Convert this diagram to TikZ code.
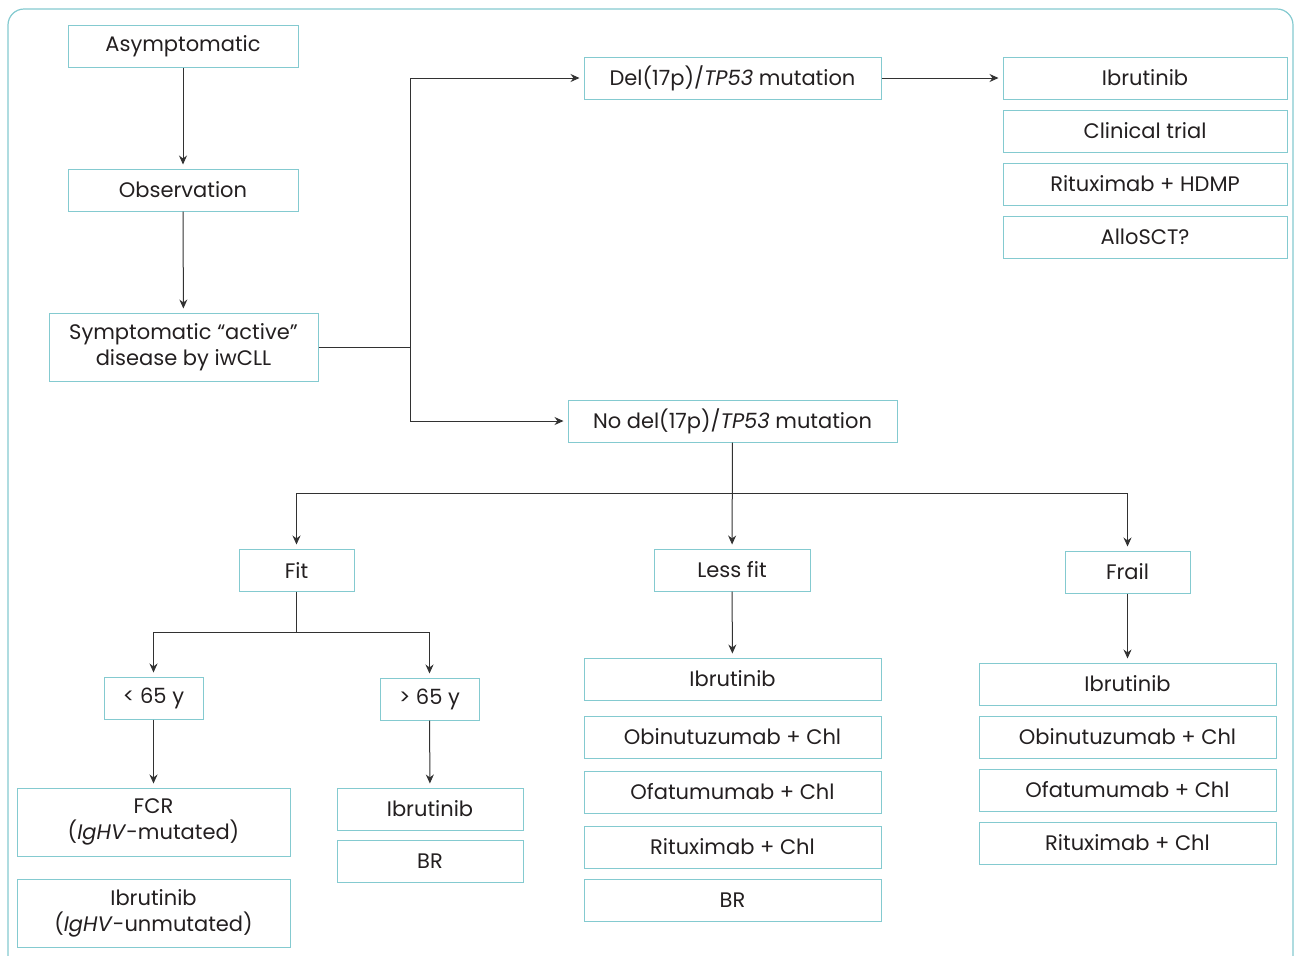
\documentclass[tikz,border=0pt]{standalone}
\usepackage{fontspec}
\setmainfont{Poppins}
\usetikzlibrary{positioning,calc,arrows.meta}
\definecolor{boxteal}{RGB}{132,202,208}
\definecolor{linegray}{RGB}{50,50,50}
\definecolor{txt}{RGB}{35,31,32}

\begin{document}
\begin{tikzpicture}[x=0.5pt,y=-0.5pt,
	box/.style={draw=boxteal,line width=0.5pt,minimum height=21pt,inner sep=0pt,align=center,text=txt,font=\fontsize{10.5}{13}\selectfont},
	arr/.style={-{Stealth[length=4.5pt,width=4pt]},linegray,line width=0.5pt,shorten >=2pt},
	ln/.style={linegray,line width=0.5pt}]
			\useasboundingbox (0,0) rectangle (1294,955);
			\clip (0,0) rectangle (1294,955);
			\draw[boxteal,line width=0.6pt,rounded corners=8pt] (8,9) rectangle (1293,975);
			% left column
			\node[box,minimum width=115pt] (asym) at (183,46) {Asymptomatic};
			\node[box,minimum width=115pt] (obs) at (183,190) {Observation};
			\node[box,minimum width=134.5pt,minimum height=34pt] (sympt) at (183.5,347) {Symptomatic “active”\\disease by iwCLL};
			% mutation status
			\node[box,minimum width=148.5pt] (del) at (732.5,78) {Del(17p)/\textit{TP53} mutation};
			\node[box,minimum width=164.5pt] (nodel) at (732.5,421) {No del(17p)/\textit{TP53} mutation};
			\foreach \y/\t/\n in {78/Ibrutinib/d1,131/Clinical trial/d2,184/Rituximab + HDMP/d3,237/AlloSCT?/d4}{
					\node[box,minimum width=142pt] (\n) at (1145,\y) {\t};
				}
			% fitness
			\node[box,minimum width=57.5pt] (fit) at (296.5,570) {Fit};
			\node[box,minimum width=78pt] (lessfit) at (732,570) {Less fit};
			\node[box,minimum width=62.5pt] (frail) at (1127.5,572) {Frail};
			\node[box,minimum width=49.5pt] (young) at (153.5,698) {< 65 y};
			\node[box,minimum width=49.5pt] (old) at (429.5,699) {> 65 y};
			\node[box,minimum width=136.5pt,minimum height=34pt] (fcr) at (153.5,822) {FCR\\(\textit{IgHV}-mutated)};
			\node[box,minimum width=136.5pt,minimum height=34pt] (ibru) at (153.5,913) {Ibrutinib\\(\textit{IgHV}-unmutated)};
			\foreach \y/\t/\n in {809/Ibrutinib/o1,861/BR/o2}{
					\node[box,minimum width=93pt] (\n) at (430,\y) {\t};
				}
			\foreach \y/\t/\n in {679/Ibrutinib/l1,737/Obinutuzumab + Chl/l2,792/Ofatumumab + Chl/l3,847/Rituximab + Chl/l4,900/BR/l5}{
					\node[box,minimum width=148.5pt] (\n) at (732.5,\y) {\t};
				}
			\foreach \y/\t/\n in {684/Ibrutinib/f1,737/Obinutuzumab + Chl/f2,790/Ofatumumab + Chl/f3,843/Rituximab + Chl/f4}{
					\node[box,minimum width=148.5pt] (\n) at (1127.5,\y) {\t};
				}
			% connectors
			\draw[arr] (asym) -- (obs);
			\draw[arr] (obs) -- (sympt);
			\coordinate (split) at (410,347);
			\draw[ln] (sympt.east) -- (split);
			\draw[arr] (split) |- (del.west);
			\draw[arr] (split) |- (nodel.west);
			\draw[arr] (del) -- (d1);
			\coordinate (bus1) at (732.5,493);
			\draw[arr] (nodel) -- (lessfit);
			\draw[arr] (bus1) -| (fit);
			\draw[arr] (bus1) -| (frail);
			\coordinate (bus2) at (296.5,632);
			\draw[ln] (fit) -- (bus2);
			\draw[arr] (bus2) -| (young);
			\draw[arr] (bus2) -| (old);
			\draw[arr] (young) -- (fcr);
			\draw[arr] (old) -- (o1);
			\draw[arr] (lessfit) -- (l1);
			\draw[arr] (frail) -- (f1);
		\end{tikzpicture}
\end{document}
